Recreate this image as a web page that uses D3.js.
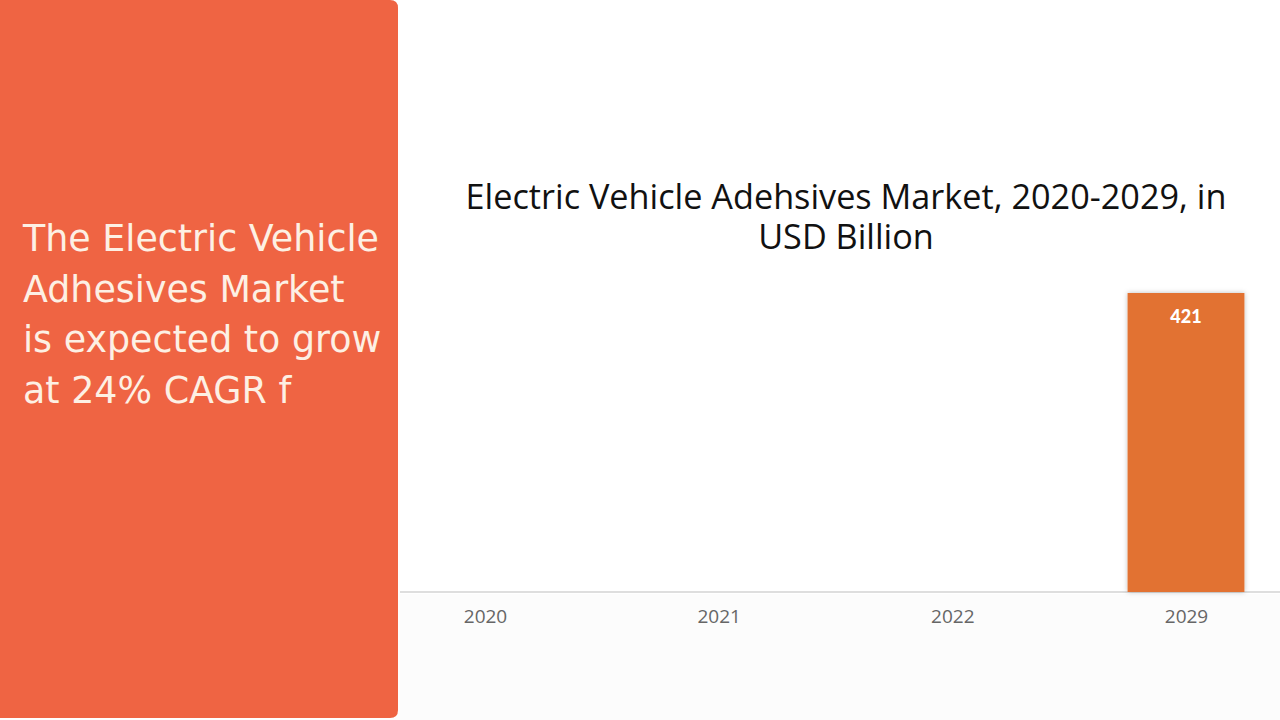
<!DOCTYPE html>
<html><head><meta charset="utf-8">
<script src="https://cdn.jsdelivr.net/npm/d3@7"></script>
<style>
html,body{margin:0;padding:0;background:#fff;}
svg{display:block;}
</style></head>
<body>
<svg id="chart" width="1280" height="720"></svg>
<script>
const years = ["2020","2021","2022","2029"];
const values = [0, 0, 0, 421];
const valueLabels = ["", "", "", "421"];
const titleLines = ["Electric Vehicle Adehsives Market, 2020-2029, in", "USD Billion"];
const panelLines = ["The Electric Vehicle", "Adhesives Market", "is expected to grow", "at 24% CAGR f"];

const svg = d3.select("#chart");
const defs = svg.append("defs");
const f = defs.append("filter").attr("id","sh").attr("x","-20%").attr("y","-20%").attr("width","140%").attr("height","140%");
f.append("feDropShadow").attr("dx",0).attr("dy",0).attr("stdDeviation",2.5).attr("flood-color","#000").attr("flood-opacity",0.25);

function fitFont(sel, targetWidth, startSize){
  const w = sel.node().getComputedTextLength();
  const size = startSize * targetWidth / w;
  sel.attr("font-size", size);
  return size;
}

svg.append("rect").attr("x",400).attr("y",594).attr("width",880).attr("height",126).attr("fill","#fcfcfc");

svg.append("path")
  .attr("d", "M0,0 H390 Q398,0 398,8 V710 Q398,718 390,718 H0 Z")
  .attr("fill","#EF6443");

const pTexts = svg.append("g").selectAll("text").data(panelLines).join("text")
  .attr("x",23).attr("y",(d,i)=>251+i*50.5)
  .attr("fill","#FDF0E4")
  .attr("font-family","'DejaVu Sans', sans-serif")
  .attr("font-size",32)
  .text(d=>d);
const ps = fitFont(d3.select(pTexts.nodes()[0]), 356, 32);
pTexts.attr("font-size", ps);

const tTexts = svg.append("g").selectAll("text").data(titleLines).join("text")
  .attr("x",846).attr("y",(d,i)=>209+i*40)
  .attr("text-anchor","middle")
  .attr("fill","#111")
  .attr("font-family","'Open Sans', sans-serif")
  .attr("font-size",30)
  .text(d=>d);
const ts = fitFont(d3.select(tTexts.nodes()[0]), 761, 30);
tTexts.attr("font-size", ts);

const x = d3.scalePoint().domain(years).range([485,1186]);
const bw = x.step()*0.5;
const y = d3.scaleLinear().domain([0,421]).range([592,293]);

const axis = svg.append("g").attr("transform","translate(0,592)")
  .call(d3.axisBottom(x).tickSize(0).tickPadding(18));
axis.select(".domain").attr("d","M400,0H1280").attr("stroke","#dedede").attr("stroke-width",2);
axis.selectAll(".tick text").attr("font-family","'Open Sans', sans-serif").attr("font-size",19).attr("fill","#666");

svg.append("g").selectAll("rect").data(years).join("rect")
  .attr("x",d=>x(d)-bw/2)
  .attr("y",(d,i)=>y(values[i]))
  .attr("width",bw)
  .attr("height",(d,i)=>592-y(values[i]))
  .attr("fill","#E27231")
  .attr("filter","url(#sh)");

svg.append("g").selectAll("text").data(years).join("text")
  .attr("x",d=>x(d))
  .attr("y",(d,i)=>y(values[i])+30)
  .attr("text-anchor","middle")
  .attr("fill","#fff")
  .attr("font-family","Lato, sans-serif")
  .attr("font-weight",900)
  .attr("font-size",18)
  .text((d,i)=>valueLabels[i]);
</script>
</body></html>
